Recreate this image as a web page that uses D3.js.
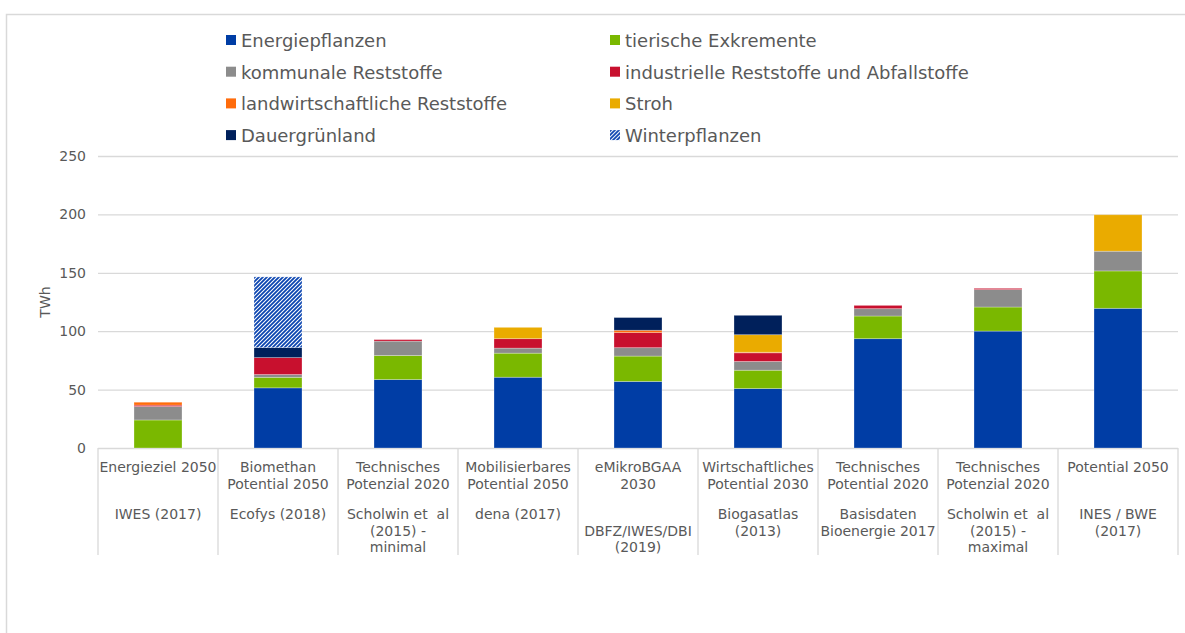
<!DOCTYPE html>
<html>
<head>
<meta charset="utf-8">
<script src="https://cdn.jsdelivr.net/npm/d3@7/dist/d3.min.js"></script>
<style>
  body { margin: 0; background: #fff; }
  svg text { font-family: "DejaVu Sans", Verdana, sans-serif; fill: #595959; white-space: pre; }
</style>
</head>
<body>
<div id="chart"></div>
<script>
// categories: [title lines, source lines]
const categories = [
  { title: ["Energieziel 2050"], source: ["IWES (2017)"] },
  { title: ["Biomethan", "Potential 2050"], source: ["Ecofys (2018)"] },
  { title: ["Technisches", "Potenzial 2020"], source: ["Scholwin et  al", "(2015) -", "minimal"] },
  { title: ["Mobilisierbares", "Potential 2050"], source: ["dena (2017)"] },
  { title: ["eMikroBGAA", "2030"], source: ["", "DBFZ/IWES/DBI", "(2019)"] },
  { title: ["Wirtschaftliches", "Potential 2030"], source: ["Biogasatlas", "(2013)"] },
  { title: ["Technisches", "Potential 2020"], source: ["Basisdaten", "Bioenergie 2017"] },
  { title: ["Technisches", "Potenzial 2020"], source: ["Scholwin et  al", "(2015) -", "maximal"] },
  { title: ["Potential 2050"], source: ["INES / BWE", "(2017)"] }
];

const seriesNames = [
  "Energiepflanzen", "tierische Exkremente", "kommunale Reststoffe",
  "industrielle Reststoffe und Abfallstoffe", "landwirtschaftliche Reststoffe",
  "Stroh", "Dauergrünland", "Winterpflanzen"
];

// values per series, one per category (TWh)
const energiepflanzen   = [0, 51.5, 58.6, 60.6, 57.0, 50.9, 93.6, 100.1, 119.6];
const exkremente        = [24, 9.0, 20.6, 20.6, 21.7, 15.7, 19.4, 20.6, 32.0];
const kommunal          = [11.5, 2.4, 12.3, 4.3, 7.2, 7.5, 6.3, 14.9, 16.9];
const industriell       = [1.2, 14.5, 1.3, 8.1, 12.9, 7.4, 2.8, 1.1, 0];
const landwirtschaftl   = [2.5, 0, 0, 0, 2.0, 0.5, 0, 0, 0];
const stroh             = [0, 0, 0, 9.7, 0, 15.0, 0, 0, 31.2];
const dauergruenland    = [0, 8.6, 0, 0, 10.9, 16.6, 0, 0, 0];
const winterpflanzen    = [0, 60.5, 0, 0, 0, 0, 0, 0, 0];

const yTicks = [0, 50, 100, 150, 200, 250];

const seriesValues = [energiepflanzen, exkremente, kommunal, industriell,
  landwirtschaftl, stroh, dauergruenland, winterpflanzen];
const colors = ["#003da5", "#7ab800", "#8c8c8c", "#c8102e", "#ff6c0c",
  "#eaab00", "#00205b", "url(#winter)"];

const width = 1185, height = 633;
const plot = { left: 98, right: 1178, top: 156, bottom: 448 };

const svg = d3.select("#chart").append("svg")
  .attr("width", width)
  .attr("height", height);

// hatch pattern for Winterpflanzen
const defs = svg.append("defs");
const pat = defs.append("pattern")
  .attr("id", "winter")
  .attr("patternUnits", "userSpaceOnUse")
  .attr("width", 4)
  .attr("height", 4);
pat.append("rect").attr("width", 4).attr("height", 4).attr("fill", "#fff");
pat.append("path")
  .attr("d", "M-1,1 l2,-2 M0,4 l4,-4 M3,5 l2,-2")
  .attr("stroke", "#0a44b0")
  .attr("stroke-width", 1.8);

// chart frame
svg.append("path")
  .attr("d", `M6.5,${height} V14.5 H${width}`)
  .attr("fill", "none")
  .attr("stroke", "#d9d9d9")
  .attr("stroke-width", 1.5);

const x = d3.scaleBand()
  .domain(d3.range(categories.length))
  .range([plot.left, plot.right])
  .paddingInner(0.6)
  .paddingOuter(0.3);

const xBand = d3.scaleBand()
  .domain(d3.range(categories.length))
  .range([plot.left, plot.right]);

const y = d3.scaleLinear()
  .domain([0, 250])
  .range([plot.bottom, plot.top]);

// gridlines + y labels
const yAxis = d3.axisLeft(y)
  .tickValues(yTicks)
  .tickSize(-(plot.right - plot.left))
  .tickPadding(12);

svg.append("g")
  .attr("transform", `translate(${plot.left},0)`)
  .call(yAxis)
  .call(g => g.select(".domain").remove())
  .call(g => g.selectAll("line").attr("stroke", "#d9d9d9").attr("stroke-width", 1.3))
  .call(g => g.selectAll("text")
    .attr("font-size", 14)
    .style("font-family", '"DejaVu Sans", Verdana, sans-serif')
    .attr("fill", "#595959"));

svg.append("text")
  .attr("transform", `translate(50,${(plot.top + plot.bottom) / 2}) rotate(-90)`)
  .attr("text-anchor", "middle")
  .attr("font-size", 14)
  .text("TWh");

// stacked bars
const rows = categories.map((c, i) => {
  const r = { i };
  seriesNames.forEach((s, k) => { r[s] = seriesValues[k][i]; });
  return r;
});
const stack = d3.stack().keys(seriesNames)(rows);

svg.append("g")
  .selectAll("g")
  .data(stack)
  .join("g")
  .attr("fill", (d, k) => colors[k])
  .selectAll("rect")
  .data(d => d.filter(p => p[1] - p[0] > 0))
  .join("rect")
  .attr("x", d => x(d.data.i))
  .attr("width", x.bandwidth())
  .attr("y", d => y(d[1]))
  .attr("height", d => y(d[0]) - y(d[1]))
  .attr("stroke", "#ffffff")
  .attr("stroke-opacity", 0.35)
  .attr("stroke-width", 0.8);

// category table below axis
const tab = svg.append("g");
tab.selectAll("line.div")
  .data(d3.range(categories.length + 1))
  .join("line")
  .attr("class", "div")
  .attr("x1", i => i < categories.length ? xBand(i) : plot.right)
  .attr("x2", i => i < categories.length ? xBand(i) : plot.right)
  .attr("y1", plot.bottom)
  .attr("y2", 555)
  .attr("stroke", "#d9d9d9")
  .attr("stroke-width", 1.3);

const cat = tab.selectAll("g.cat")
  .data(categories)
  .join("g")
  .attr("class", "cat")
  .attr("transform", (d, i) => `translate(${xBand(i) + xBand.bandwidth() / 2},0)`);

cat.append("text")
  .attr("text-anchor", "middle")
  .attr("font-size", 14)
  .selectAll("tspan")
  .data(d => d.title)
  .join("tspan")
  .attr("x", 0)
  .attr("y", (t, j) => 472 + j * 17)
  .text(t => t);

cat.append("text")
  .attr("text-anchor", "middle")
  .attr("font-size", 14)
  .selectAll("tspan")
  .data(d => d.source)
  .join("tspan")
  .attr("x", 0)
  .attr("y", (t, j) => 519 + j * 16.5)
  .text(t => t);

// legend
const legend = svg.append("g");
const legItems = legend.selectAll("g")
  .data(seriesNames)
  .join("g")
  .attr("transform", (d, k) =>
    `translate(${k % 2 === 0 ? 226 : 610},${40 + Math.floor(k / 2) * 31.7})`);

legItems.append("rect")
  .attr("x", 0).attr("y", -5)
  .attr("width", 10).attr("height", 10)
  .attr("fill", (d, k) => colors[k]);

legItems.append("text")
  .attr("x", 15)
  .attr("y", 7)
  .attr("font-size", 18)
  .text(d => d);
</script>
</body>
</html>
